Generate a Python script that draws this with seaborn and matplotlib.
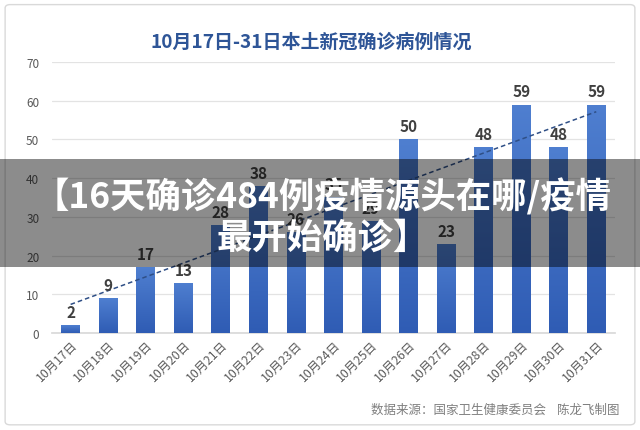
import numpy as np
import pandas as pd
import matplotlib
matplotlib.use("Agg")
import matplotlib.pyplot as plt
from matplotlib.patches import FancyBboxPatch, Rectangle
from matplotlib.colors import LinearSegmentedColormap
import seaborn as sns

dates = ["10月17日", "10月18日", "10月19日", "10月20日", "10月21日", "10月22日", "10月23日",
         "10月24日", "10月25日", "10月26日", "10月27日", "10月28日", "10月29日", "10月30日", "10月31日"]
cases = [2, 9, 17, 13, 28, 38, 26, 35, 29, 50, 23, 48, 59, 48, 59]
y_ticks = [0, 10, 20, 30, 40, 50, 60, 70]
title = "10月17日-31日本土新冠确诊病例情况"
source = "数据来源：国家卫生健康委员会    陈龙飞制图"
banner_lines = ["【16天确诊484例疫情源头在哪/疫情", "最开始确诊】"]

sns.set_theme(style="white")
plt.rcParams['font.family'] = ['Noto Sans CJK SC', 'DejaVu Sans']

df = pd.DataFrame({"date": dates, "cases": cases})

fig = plt.figure(figsize=(6.4, 4.31), dpi=100)
fig.patch.set_facecolor("white")

# outer rounded frame
frame = FancyBboxPatch((0.008, 0.012), 0.984, 0.975, boxstyle="round,pad=0,rounding_size=0.008",
                       transform=fig.transFigure, facecolor="none", edgecolor="#d9d9d9",
                       linewidth=1.0, zorder=-1)
fig.patches.append(frame)

ax = fig.add_axes([0.081, 0.225, 0.88, 0.629])
ax.set_zorder(1)
ax.set_facecolor("none")
sns.barplot(data=df, x="date", y="cases", color="#4472C4", width=0.5, ax=ax, zorder=3)

# gradient fill for bars
cmap = LinearSegmentedColormap.from_list("blu", ["#2F5CB4", "#4F7FD0"])
grad = np.linspace(0, 1, 256).reshape(-1, 1)
for p in ax.patches:
    x0, y0 = p.get_x(), p.get_y()
    w, h = p.get_width(), p.get_height()
    im = ax.imshow(grad, cmap=cmap, origin="lower", aspect="auto",
                   extent=[x0, x0 + w, y0, y0 + h], zorder=3)
    im.set_clip_path(p)
    p.set_facecolor("none")
    p.set_edgecolor("none")

# value labels
for i, v in enumerate(cases):
    ax.text(i, v + 1.3, str(v), ha="center", va="bottom", fontsize=11,
            fontweight="bold", color="#404040", zorder=5)

# linear trend line
xs = np.arange(len(cases))
k, b = np.polyfit(xs, cases, 1)
ax.plot([xs[0], xs[-1]], [k * xs[0] + b, k * xs[-1] + b], linestyle=(0, (3, 2)),
        color="#2F4F86", linewidth=1.1, zorder=4)

ax.set_xlim(-0.5, len(cases) - 0.5)
ax.set_ylim(0, 70)
ax.set_yticks(y_ticks)
ax.set_yticklabels([str(t) for t in y_ticks], fontsize=8.5, color="#595959")
ax.yaxis.grid(True, color="#e3e3e3", linewidth=0.9, zorder=0)
ax.set_axisbelow(True)
ax.set_xlabel("")
ax.set_ylabel("")
for s in ["top", "right", "left"]:
    ax.spines[s].set_visible(False)
ax.spines["bottom"].set_color("#d9d9d9")
ax.tick_params(axis="y", length=0, pad=9)
ax.tick_params(axis="x", length=0, pad=3)
plt.setp(ax.get_xticklabels(), rotation=45, ha="right", rotation_mode="anchor",
         fontsize=8.8, color="#595959")

fig.text(0.487, 0.903, title, ha="center", va="center", fontsize=13.7,
         fontweight="bold", color="#2E5597")
fig.text(0.968, 0.048, source, ha="right", va="center", fontsize=9, color="#7f7f7f")

# overlay banner
banner = Rectangle((0, 1 - 268 / 431), 1, (268 - 160) / 431, transform=fig.transFigure,
                   facecolor="black", alpha=0.45, edgecolor="none", zorder=10)
fig.patches.append(banner)
fig.text(0.504, 1 - 197 / 431, banner_lines[0], ha="center", va="center", fontsize=25.5,
         fontweight="bold", color="white", zorder=11)
fig.text(0.504, 1 - 238 / 431, banner_lines[1], ha="center", va="center", fontsize=25.5,
         fontweight="bold", color="white", zorder=11)

fig.savefig("out.png", dpi=100, facecolor="white")
